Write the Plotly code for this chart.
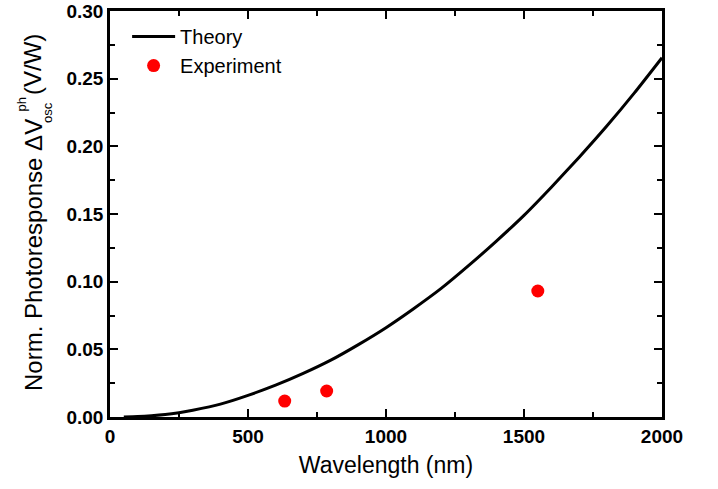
import plotly.graph_objects as go

# Theory curve
theory_x = [50, 100, 150, 200, 250, 300, 400, 500, 600, 700, 800, 900, 1000,
            1100, 1200, 1300, 1400, 1500, 1600, 1700, 1800, 1900, 2000]
theory_y = [0.0, 0.0003, 0.0009, 0.0018, 0.0032, 0.0050, 0.0095, 0.0160, 0.0235,
            0.0322, 0.0420, 0.0535, 0.0660, 0.0800, 0.0950, 0.1120, 0.1300,
            0.1490, 0.1700, 0.1920, 0.2150, 0.2395, 0.2655]

# Experimental points
exp_x = [633, 785, 1550]
exp_y = [0.0118, 0.0192, 0.0931]

x_ticks = [0, 500, 1000, 1500, 2000]
y_ticks = [0.00, 0.05, 0.10, 0.15, 0.20, 0.25, 0.30]

FONT = "Liberation Sans, Arial, sans-serif"

fig = go.Figure()
fig.add_trace(go.Scatter(x=theory_x, y=theory_y, mode="lines", name="Theory",
                         line=dict(color="black", width=3, shape="spline", smoothing=0.6)))
fig.add_trace(go.Scatter(x=exp_x, y=exp_y, mode="markers", name="Experiment",
                         marker=dict(color="#FF0000", size=13)))

axis_common = dict(
    showgrid=False, zeroline=False, showline=True, linecolor="black", linewidth=2.5,
    mirror="ticks", ticks="inside", ticklen=8, tickwidth=2, tickcolor="black",
    tickfont=dict(family=FONT, size=19, color="black", weight="bold"),
    automargin=False,
)

fig.update_xaxes(range=[0, 2000], tickvals=x_ticks, ticktext=[str(v) for v in x_ticks],
                 minor=dict(dtick=250, ticks="inside", ticklen=5, tickwidth=2, tickcolor="black"),
                 title=dict(text="Wavelength (nm)", font=dict(family=FONT, size=23, color="black"),
                            standoff=12),
                 **axis_common)
fig.update_yaxes(range=[0, 0.30], tickvals=y_ticks, ticktext=[f"{v:.2f}" for v in y_ticks],
                 minor=dict(dtick=0.025, ticks="inside", ticklen=5, tickwidth=2, tickcolor="black"),
                 **axis_common)

L, R, T, B = 110, 56, 11, 72
W, H = 718, 489
pw, ph = W - L - R, H - T - B

def px_x(p):
    return (p - L) / pw

def px_y(p):
    return (H - B - p) / ph

title_font = dict(family=FONT, size=24, color="black")
small_font = dict(family=FONT, size=13, color="black")
annotations = [
    dict(text="Norm. Photoresponse ΔV", x=px_x(33), y=px_y(393), xref="paper", yref="paper",
         textangle=-90, xanchor="center", yanchor="bottom", showarrow=False, font=title_font),
    dict(text="ph", x=px_x(21), y=px_y(104.5), xref="paper", yref="paper",
         textangle=-90, xanchor="center", yanchor="middle", showarrow=False, font=small_font),
    dict(text="osc", x=px_x(47), y=px_y(113), xref="paper", yref="paper",
         textangle=-90, xanchor="center", yanchor="middle", showarrow=False, font=small_font),
    dict(text="(V/W)", x=px_x(33), y=px_y(65), xref="paper", yref="paper",
         textangle=-90, xanchor="center", yanchor="middle", showarrow=False, font=title_font),
]

fig.update_layout(
    width=W, height=H,
    margin=dict(l=L, r=R, t=T, b=B),
    paper_bgcolor="white", plot_bgcolor="white",
    showlegend=True,
    legend=dict(x=0.031, y=0.985, xanchor="left", yanchor="top",
                bgcolor="rgba(0,0,0,0)", font=dict(family=FONT, size=20, color="black"),
                itemwidth=43, tracegroupgap=0),
    annotations=annotations,
)

fig.write_html("out.html")
